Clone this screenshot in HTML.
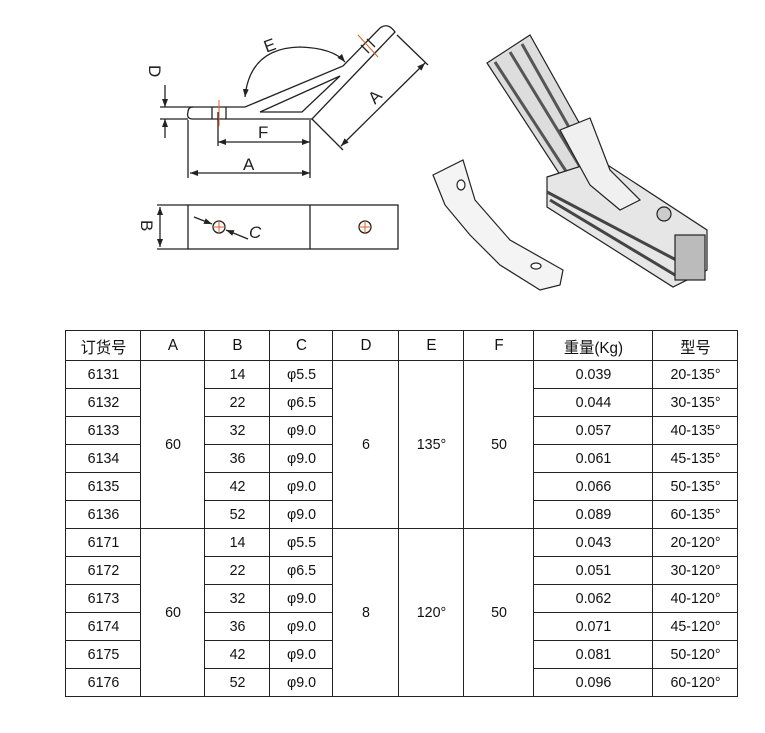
<!DOCTYPE html>
<html><head><meta charset="utf-8"><style>
html,body{margin:0;padding:0;background:#fff;width:765px;height:733px;overflow:hidden;position:relative}
svg{position:absolute;left:0;top:0}
table{position:absolute;left:65px;top:330px;border-collapse:collapse;font-family:"Liberation Sans","Noto Sans CJK SC",sans-serif;font-size:15px;color:#111}
td{border:1.3px solid #222;text-align:center;padding:0;height:27px;transform:scaleX(0.95)}
tr.h td{height:29px;font-size:16px}
</style></head><body>
<svg width="765" height="733" viewBox="0 0 765 733">
<defs><marker id="a" markerWidth="8" markerHeight="6" refX="8" refY="3" orient="auto-start-reverse" markerUnits="userSpaceOnUse"><path d="M0,0 L8,3 L0,6 Z" fill="#222"/></marker></defs>
<g fill="none" stroke="#222" stroke-width="1.3">
<path d="M193,107 L245,107 L343,66 L380,28 Q388,22 395,32 L312,119 L193,119 Q186,119 188,112 Q188,107 193,107 Z"/>
<path d="M260,112 L340,76 L302,112 Z"/>
<line x1="212" y1="107" x2="212" y2="119"/><line x1="226" y1="107" x2="226" y2="119"/>
<line x1="361" y1="45" x2="369" y2="53"/><line x1="367" y1="39" x2="375" y2="47"/>
<line x1="160" y1="107" x2="193" y2="107"/><line x1="160" y1="119" x2="188" y2="119"/>
<line x1="165" y1="85" x2="165" y2="107" marker-end="url(#a)"/><line x1="165" y1="138" x2="165" y2="119" marker-end="url(#a)"/>
<line x1="218" y1="112" x2="218" y2="146"/><line x1="218" y1="142" x2="310" y2="142" marker-start="url(#a)" marker-end="url(#a)"/>
<line x1="188" y1="120" x2="188" y2="178"/><line x1="310" y1="120" x2="310" y2="178"/>
<line x1="190" y1="173" x2="310" y2="173" marker-start="url(#a)" marker-end="url(#a)"/>
<line x1="312" y1="119" x2="343" y2="150"/><line x1="397" y1="35" x2="428" y2="65"/>
<line x1="341" y1="146" x2="425" y2="63" marker-start="url(#a)" marker-end="url(#a)"/>
<path d="M245,97 Q250,48 300,47 Q333,48 345,62" marker-start="url(#a)" marker-end="url(#a)"/>
<rect x="188" y="205" width="210" height="44"/>
<line x1="310" y1="205" x2="310" y2="249"/>
<line x1="157" y1="205" x2="188" y2="205"/><line x1="157" y1="249" x2="188" y2="249"/>
<line x1="160" y1="207" x2="160" y2="247" marker-start="url(#a)" marker-end="url(#a)"/>
<circle cx="219" cy="227" r="6"/><circle cx="365" cy="227" r="6"/>
<line x1="194" y1="217" x2="212" y2="224" marker-end="url(#a)"/><line x1="248" y1="239" x2="226" y2="230" marker-end="url(#a)"/>
</g>
<g stroke="#e0602a" stroke-width="1">
<line x1="219" y1="100" x2="219" y2="126"/><line x1="358" y1="35" x2="378" y2="57"/>
<line x1="213" y1="227" x2="225" y2="227"/><line x1="219" y1="221" x2="219" y2="233"/>
<line x1="359" y1="227" x2="371" y2="227"/><line x1="365" y1="221" x2="365" y2="233"/>
</g>
<g fill="#222" font-family="Liberation Sans,sans-serif" font-size="17">
<text x="258" y="138">F</text><text x="243" y="170">A</text>
<text x="264" y="51" transform="rotate(-20 270 45)">E</text>
<text x="150" y="76" transform="rotate(90 155 70)">D</text>
<text x="368" y="102" transform="rotate(-45 375 95)">A</text>
<text x="140" y="233" transform="rotate(90 147 227)">B</text>
<text x="249" y="238" font-style="italic">C</text>
</g>
<g stroke="#222" stroke-width="1.2" fill="#f4f4f4">
<path d="M433,175 L463,160 L475,200 L510,240 L563,270 L560,285 L540,290 L500,265 L470,235 L445,205 Z"/>
<ellipse cx="461" cy="185" rx="4" ry="5" fill="#fff"/><ellipse cx="536" cy="266" rx="5" ry="3" fill="#fff"/>
<path d="M487,63 L530,35 L600,160 L570,190 Z" fill="#ddd"/>
<path d="M495,62 L575,185 M510,52 L585,175 M522,44 L592,168" stroke="#555" stroke-width="3"/>
<path d="M547,177 L600,160 L707,230 L707,270 L673,287 L547,207 Z" fill="#e6e6e6"/>
<path d="M547,192 L680,262 M550,200 L675,275" stroke="#444" stroke-width="3"/>
<path d="M560,130 L590,118 L610,170 L640,200 L620,210 L590,185 Z" fill="#f0f0f0"/>
<circle cx="664" cy="214" r="7" fill="#ccc"/>
<rect x="675" y="235" width="30" height="45" fill="#bbb"/>
</g>
</svg>
<table>
<colgroup><col style="width:75px"><col style="width:64px"><col style="width:65px"><col style="width:63px"><col style="width:66px"><col style="width:65px"><col style="width:70px"><col style="width:119px"><col style="width:85px"></colgroup>
<tr class="h"><td>订货号</td><td>A</td><td>B</td><td>C</td><td>D</td><td>E</td><td>F</td><td>重量(Kg)</td><td>型号</td></tr>
<tr><td>6131</td><td rowspan="6">60</td><td>14</td><td>φ5.5</td><td rowspan="6">6</td><td rowspan="6">135°</td><td rowspan="6">50</td><td>0.039</td><td>20-135°</td></tr>
<tr><td>6132</td><td>22</td><td>φ6.5</td><td>0.044</td><td>30-135°</td></tr>
<tr><td>6133</td><td>32</td><td>φ9.0</td><td>0.057</td><td>40-135°</td></tr>
<tr><td>6134</td><td>36</td><td>φ9.0</td><td>0.061</td><td>45-135°</td></tr>
<tr><td>6135</td><td>42</td><td>φ9.0</td><td>0.066</td><td>50-135°</td></tr>
<tr><td>6136</td><td>52</td><td>φ9.0</td><td>0.089</td><td>60-135°</td></tr>
<tr><td>6171</td><td rowspan="6">60</td><td>14</td><td>φ5.5</td><td rowspan="6">8</td><td rowspan="6">120°</td><td rowspan="6">50</td><td>0.043</td><td>20-120°</td></tr>
<tr><td>6172</td><td>22</td><td>φ6.5</td><td>0.051</td><td>30-120°</td></tr>
<tr><td>6173</td><td>32</td><td>φ9.0</td><td>0.062</td><td>40-120°</td></tr>
<tr><td>6174</td><td>36</td><td>φ9.0</td><td>0.071</td><td>45-120°</td></tr>
<tr><td>6175</td><td>42</td><td>φ9.0</td><td>0.081</td><td>50-120°</td></tr>
<tr><td>6176</td><td>52</td><td>φ9.0</td><td>0.096</td><td>60-120°</td></tr>
</table>
</body></html>
